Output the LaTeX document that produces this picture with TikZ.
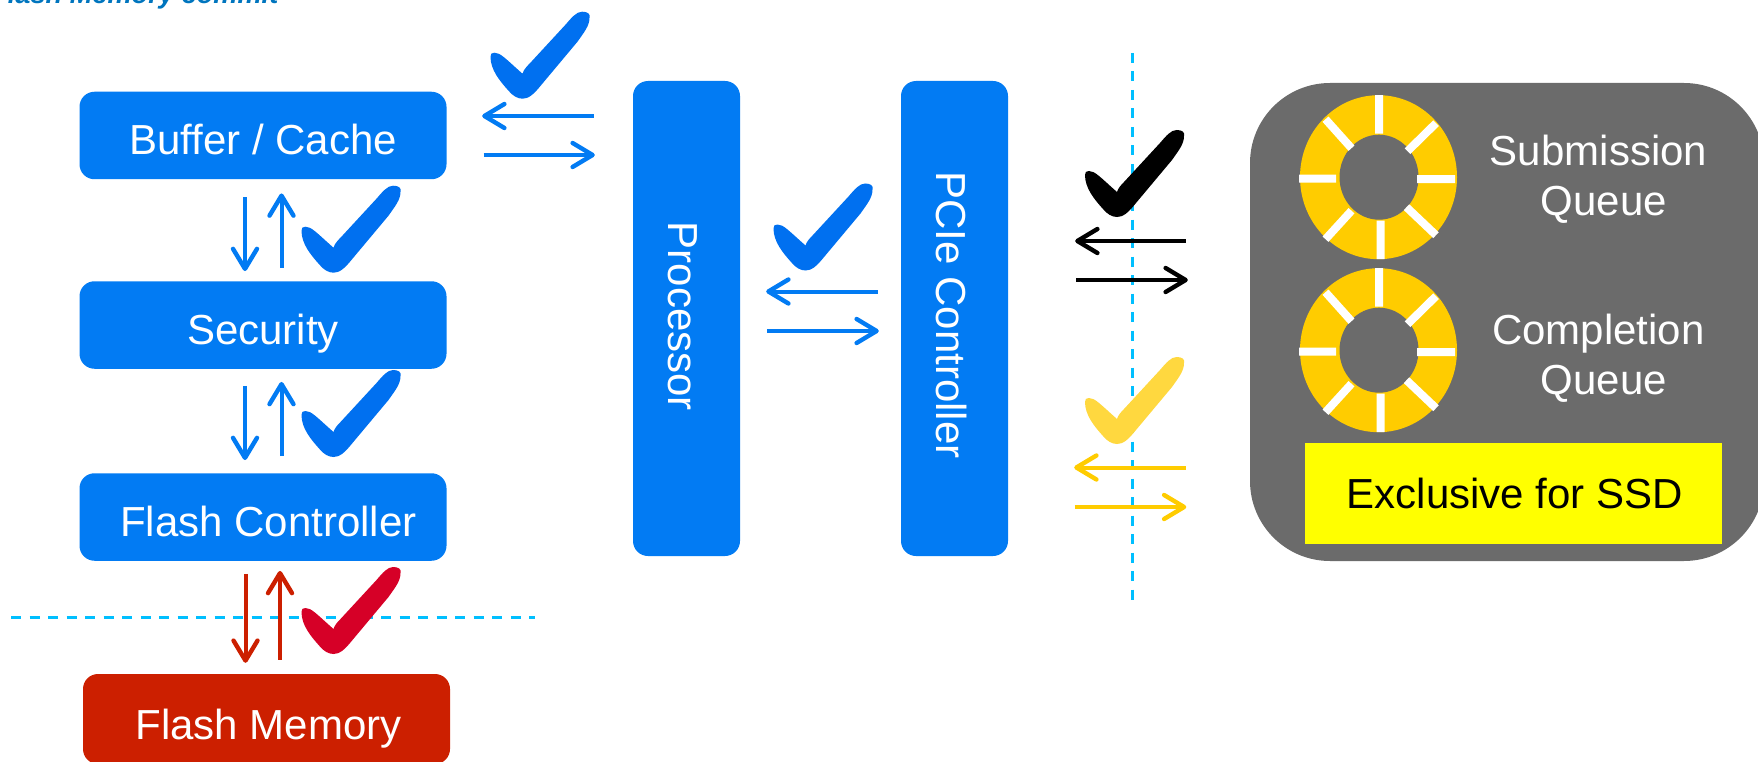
\documentclass[tikz,border=0pt]{standalone}
\usepackage{fontspec}
\setmainfont{Liberation Sans}
\usetikzlibrary{arrows.meta}
\definecolor{boxblue}{HTML}{027BF3}
\definecolor{tickblue}{HTML}{0070F0}
\definecolor{flashred}{HTML}{CC1F00}
\definecolor{tickred}{HTML}{D60027}
\definecolor{ringyel}{HTML}{FFCC00}
\definecolor{tickyel}{HTML}{FFD83F}
\definecolor{panelgray}{HTML}{6B6B6B}
\definecolor{dashcyan}{HTML}{00BFFF}
\definecolor{titleblue}{HTML}{0075BE}
\definecolor{pureyellow}{HTML}{FFFF00}
\tikzset{
  x=1pt,y=-1pt,
  lab/.style={text=white,font=\fontsize{42}{50}\selectfont,inner sep=0pt,align=center},
  blockbox/.style={lab,fill=boxblue,rounded corners=15pt,minimum width=367pt,minimum height=87.5pt,text height=39pt,text depth=0pt},
  tallbox/.style={fill=boxblue,rounded corners=15pt,minimum width=107pt,minimum height=475pt,inner sep=0pt},
  link/.style={line width=4pt,-{Straight Barb[length=20pt,width=24pt,line width=4.4pt,round]}},
  cutline/.style={dashcyan,line width=3pt,dash pattern=on 10pt off 8.5pt},
  tick/.pic={
    \fill[pic actions] (3,41) .. controls (9,41) and (14,47) .. (31,62)
      .. controls (32,58) and (36,54) .. (38,52) -- (74,13)
      .. controls (80,6) and (85,0) .. (90.5,0)
      .. controls (96,0) and (99,2) .. (98,6)
      .. controls (98,14) and (93,20) .. (86,30) -- (50,73)
      .. controls (42,83) and (37,87) .. (31,87)
      .. controls (26,87) and (21,84) .. (17,79)
      .. controls (8,69) and (-1,58) .. (-1,45)
      .. controls (-1,42) and (0,41) .. (3,41) -- cycle;
  },
  wheel/.pic={
    \fill[ringyel] (0,0) ellipse [x radius=78.5pt,y radius=82pt];
    \fill[panelgray] (0.5,0) ellipse [x radius=39.5pt,y radius=42.5pt];
    \draw[white,line width=8pt]
      (0.5,-82)--(0.5,-43.5) (2,43.5)--(2,82) (-79.5,1.5)--(-42.5,1.5) (38.5,2)--(76.5,2)
      (-53,-58)--(-27,-29) (57.5,-54)--(29,-26) (-27,33.5)--(-53,62) (28,30)--(57.5,58);
  }
}
\begin{document}
\begin{tikzpicture}
\clip (0,0) rectangle (1758,762);
\node[anchor=base west,inner sep=0pt,text=titleblue,font=\fontsize{27.2}{30}\selectfont\bfseries\itshape] (title) at (-9,4) {Flash Memory commit};

% cut lines
\coordinate (hcutA) at (11,617);
\coordinate (hcutB) at (535,617);
\coordinate (vcutA) at (1132.5,53);
\coordinate (vcutB) at (1132.5,600);
\draw[cutline] (hcutA) -- (hcutB);
\draw[cutline] (vcutA) -- (vcutB);

% left column
\node[blockbox] (buffer) at (263,135.5) {Buffer / Cache};
\node[blockbox] (security) at (263,325) {Security};
\node[blockbox] (fctrl) at (263,517) {\hspace*{11pt}Flash Controller};
\node[blockbox,fill=flashred,minimum height=90pt,text height=41pt] (fmem) at (266.5,719) {\hspace*{4pt}Flash Memory};

% tall boxes
\node[tallbox] (proc) at (686.5,318.5) {};
\node[lab] (proclab) at ([xshift=-3.5pt,yshift=2.2pt]proc.center) {\rotatebox{-90}{Processor}};
\node[tallbox] (pcie) at (954.5,318.5) {};
\node[lab] (pcielab) at ([xshift=-3.5pt,yshift=3.4pt]pcie.center) {\rotatebox{-90}{PCIe Controller}};

% panel
\node[fill=panelgray,rounded corners=80pt,minimum width=514pt,minimum height=478pt,inner sep=0pt] (panel) at (1507,322) {};
\pic at (1378.5,177.2) {wheel};
\pic at (1378.5,350.2) {wheel};
\node[lab] (subq) at (1598.5,179.5) {Submission\\\hspace*{11pt}Queue};
\node[lab] (comq) at (1598.5,358) {Completion\\\hspace*{11pt}Queue};
\node[fill=pureyellow,minimum width=417pt,minimum height=101pt,inner sep=0pt,text=black,font=\fontsize{42}{50}\selectfont] (excl) at (1513.5,493.5) {\hspace*{3pt}Exclusive for SSD};

% arrows: left column
\draw[link,boxblue] ([xshift=-18pt,yshift=-18pt]buffer.south) -- ([xshift=-18pt,yshift=10pt]security.north);
\draw[link,boxblue] ([xshift=18.5pt,yshift=13pt]security.north) -- ([xshift=18.5pt,yshift=-14pt]buffer.south);
\draw[link,boxblue] ([xshift=-18pt,yshift=-17pt]security.south) -- ([xshift=-18pt,yshift=13pt]fctrl.north);
\draw[link,boxblue] ([xshift=18.5pt,yshift=17pt]fctrl.north) -- ([xshift=18.5pt,yshift=-13pt]security.south);
\draw[link,flashred] ([xshift=-17.5pt,yshift=-13pt]fctrl.south) -- ([xshift=-21pt,yshift=11pt]fmem.north);
\draw[link,flashred] ([xshift=13.5pt,yshift=14pt]fmem.north) -- ([xshift=17pt,yshift=-10pt]fctrl.south);

% arrows: buffer <-> processor
\draw[link,boxblue] ([xshift=-39pt,yshift=202.5pt]proc.west) -- ([xshift=35.5pt,yshift=19.5pt]buffer.east);
\draw[link,boxblue] ([xshift=37pt,yshift=-19.5pt]buffer.east) -- ([xshift=-38pt,yshift=163.5pt]proc.west);

% arrows: processor <-> pcie
\draw[link,boxblue] ([xshift=-23pt,yshift=27pt]pcie.west) -- ([xshift=26pt,yshift=27pt]proc.east);
\draw[link,boxblue] ([xshift=27pt,yshift=-12.5pt]proc.east) -- ([xshift=-22pt,yshift=-12.5pt]pcie.west);

% arrows: pcie <-> panel
\draw[link,black] ([xshift=-64pt,yshift=81pt]panel.west) -- ([xshift=67pt,yshift=77.5pt]pcie.east);
\draw[link,black] ([xshift=68pt,yshift=38.5pt]pcie.east) -- ([xshift=-62pt,yshift=42pt]panel.west);
\draw[link,ringyel] ([xshift=-64pt,yshift=-145.5pt]panel.west) -- ([xshift=66pt,yshift=-149pt]pcie.east);
\draw[link,ringyel] ([xshift=66.5pt,yshift=-188.5pt]pcie.east) -- ([xshift=-63.5pt,yshift=-185pt]panel.west);

% ticks
\pic[fill=tickblue] at (491.5,11.7) {tick};
\pic[fill=tickblue] at (302.5,185.7) {tick};
\pic[fill=tickblue] at (302.5,370) {tick};
\pic[fill=tickred] at (302.5,567) {tick};
\pic[fill=tickblue] at (774.5,183.5) {tick};
\pic[fill=black] at (1086,130) {tick};
\pic[fill=tickyel] at (1086,357) {tick};
\end{tikzpicture}
\end{document}
